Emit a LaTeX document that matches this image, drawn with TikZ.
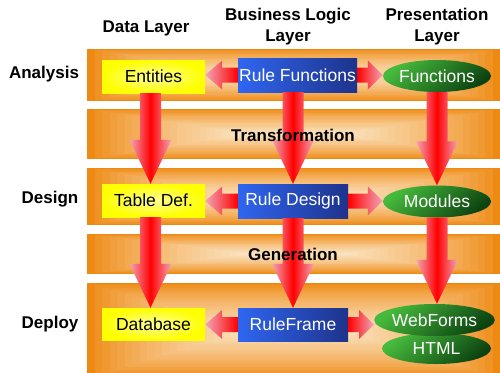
\documentclass[tikz,border=0pt]{standalone}
\usepackage{fontspec}
\setmainfont{Liberation Sans}
\usetikzlibrary{shapes.geometric,calc}
\definecolor{banddark}{HTML}{EE8A14}
\definecolor{bandlight}{HTML}{FBE2BE}
\definecolor{ylw}{HTML}{FFFF00}
\definecolor{blueL}{HTML}{2F66F0}
\definecolor{blueD}{HTML}{1E338C}
\definecolor{greenL}{HTML}{46BA3C}
\definecolor{greenD}{HTML}{0C4210}
\definecolor{arrred}{HTML}{FF0000}
\definecolor{arrpink}{HTML}{F2A6B8}

\newcommand\bandrect[4]{%
 \foreach \i in {0,...,20}{%
  \pgfmathsetmacro\dx{\i*7.5}%
  \pgfmathsetmacro\dy{\i*((#4)-(#2))/2/21}%
  \pgfmathtruncatemacro\mx{100*(\i/20)^0.75}%
  \fill[bandlight!\mx!banddark] ({#1+\dx},{#2+\dy}) rectangle ({#3-\dx},{#4-\dy});
 }}
\newcommand\varrow[2]{%
 \shade[left color=arrpink,right color=arrpink,middle color=arrred]
  let \p1=(#1), \p2=(#2) in
  (\x2-10.5,\y1) -- (\x2+10.5,\y1) -- (\x2+10.5,\y2+44) -- (\x2+21,\y2+44)
  -- (\x2,\y2) -- (\x2-21,\y2+44) -- (\x2-10.5,\y2+44) -- cycle;}
% #1 start, #2 tip, #3 signed head length, #4 shading
\newcommand\harrow[4]{%
 \shade[#4]
  let \p1=(#1), \p2=(#2) in
  (\x1,\y1+7.5) -- (\x2+#3,\y1+7.5) -- (\x2+#3,\y1+14.5) -- (\x2,\y1)
  -- (\x2+#3,\y1-14.5) -- (\x2+#3,\y1-7.5) -- (\x1,\y1-7.5) -- cycle;}

\tikzset{
 head/.style={font=\fontsize{17}{21}\selectfont\bfseries, align=center, inner sep=0},
 ybox/.style={rectangle, inner sep=0, inner color=ylw!40!white, outer color=ylw,
   font=\fontsize{17.5}{19}\selectfont, text=black},
 bbox/.style={rectangle, inner sep=0, left color=blueL, right color=blueD,
   font=\fontsize{17.5}{19}\selectfont, text=white},
 gell/.style={ellipse, inner sep=0, top color=greenL, bottom color=greenD, shading angle=40,
   minimum width=108, minimum height=32, font=\fontsize{17.5}{19}\selectfont, text=white},
 leftarr/.style={left color=arrpink, right color=arrred},
 rightarr/.style={left color=arrred, right color=arrpink},
}

\begin{document}
\begin{tikzpicture}[x=1pt,y=-1pt]
\useasboundingbox (0,0) rectangle (500,372);
\fill[white] (0,0) rectangle (500,372);

% bands
\bandrect{87}{49}{500}{101}
\bandrect{87}{109}{500}{159}
\bandrect{87}{168}{500}{225}
\bandrect{87}{234}{500}{274}
\bandrect{87}{283}{500}{378}

% headings
\node[head] (hdata) at (146,28) {Data Layer};
\node[head] (hbus) at (288,27) {Business Logic\\Layer};
\node[head] (hpres) at (437,27) {Presentation\\Layer};
\node[head] (hana) at (44,74) {Analysis};
\node[head] (hdes) at (50,199) {Design};
\node[head] (hdep) at (50,324) {Deploy};

% data layer
\node[ybox, minimum width=103, minimum height=33] (ent) at (153.5,76.5) {Entities};
\node[ybox, minimum width=103, minimum height=33] (td) at (153.5,200.5) {Table Def.};
\node[ybox, minimum width=103, minimum height=32] (db) at (153.5,324) {Database};

% business logic layer
\node[bbox, minimum width=119, minimum height=34] (rfun) at (297.5,75) {Rule Functions};
\node[bbox, minimum width=110, minimum height=34] (rdes) at (293,201) {Rule Design};
\node[bbox, minimum width=110, minimum height=33] (rfr) at (293,324.5) {RuleFrame};

% presentation layer
\node[gell] (fun) at (437,76) {Functions};
\node[gell] (mod) at (437,201.5) {Modules};
\node[gell, minimum width=109, minimum height=31] (html) at (436.5,348.5) {HTML};
\node[gell, minimum width=109] (web) at (434.5,320) {WebForms};

% vertical arrows
\varrow{ent.south}{$(td.north)+(-3,0)$}
\varrow{rfun.south}{rdes.north}
\varrow{fun.south}{mod.north}
\varrow{td.south}{$(db.north)+(-3,0)$}
\varrow{rdes.south}{rfr.north}
\varrow{mod.south}{$(web.north)+(2.5,0)$}

% horizontal arrows
\harrow{rfun.west}{ent.east}{17}{leftarr}
\harrow{rfun.east}{fun.west}{-15}{rightarr}
\harrow{rdes.west}{td.east}{17}{leftarr}
\harrow{rdes.east}{mod.west}{-15}{rightarr}
\harrow{rfr.west}{db.east}{17}{leftarr}
\harrow{rfr.east}{web.west}{-15}{rightarr}

% band labels on top of the arrows
\node[head] (trans) at (293,135) {Transformation};
\node[head] (gen) at (293,254) {Generation};
\end{tikzpicture}
\end{document}
